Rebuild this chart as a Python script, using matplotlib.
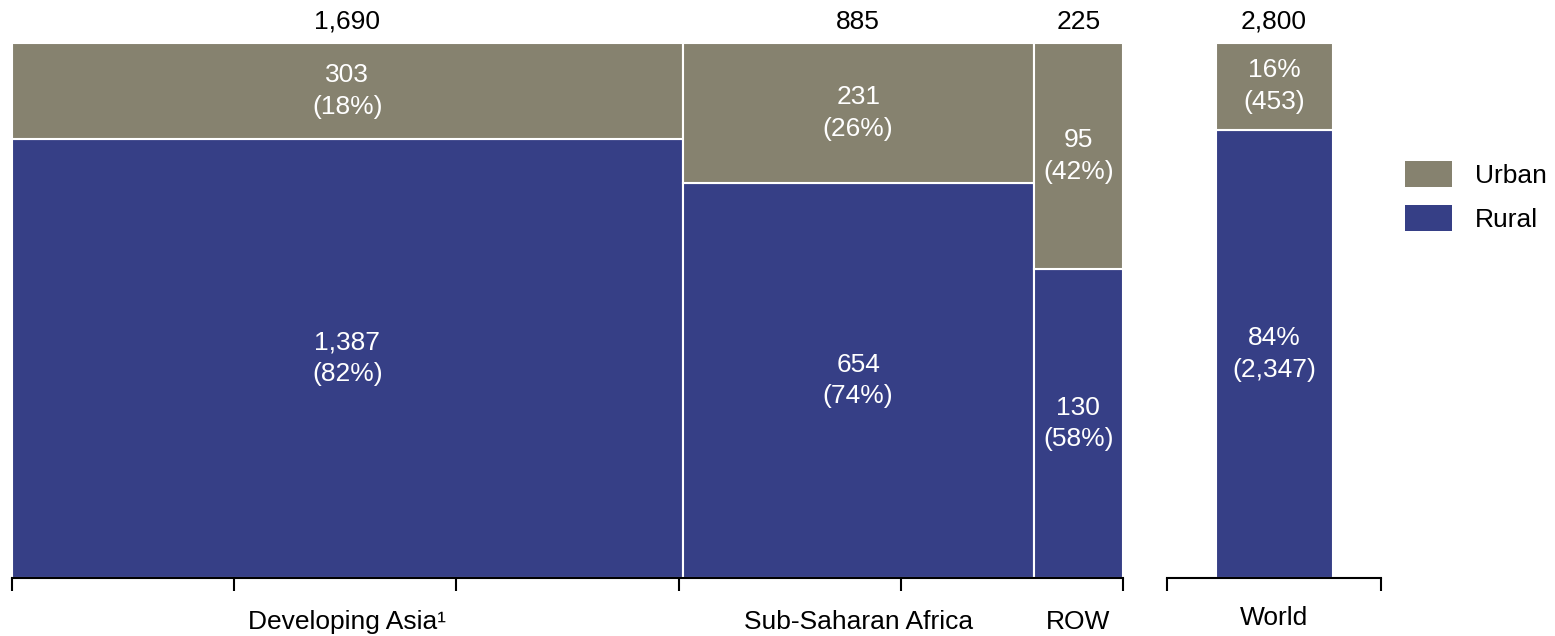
import numpy as np
import matplotlib
matplotlib.use("Agg")
import matplotlib.pyplot as plt
from matplotlib.patches import Patch
import matplotlib.transforms as mtransforms

plt.rcParams['font.family'] = ['Liberation Sans', 'DejaVu Sans']

# data
regions = ["Developing Asia\u00b9", "Sub-Saharan Africa", "ROW"]
urban = [303, 231, 95]
rural = [1387, 654, 130]
world_urban = 453
world_rural = 2347

urban_col = "#86826f"
rural_col = "#363f86"
fs = 19
ls = 1.4

totals = np.array(urban) + np.array(rural)
grand = totals.sum()
lefts = np.concatenate([[0], np.cumsum(totals)[:-1]])
u_share = np.array(urban) / totals
r_share = np.array(rural) / totals

fig = plt.figure(figsize=(15.55, 6.36), dpi=100)
ax = fig.add_axes([12 / 1555, 58 / 636, 1111 / 1555, 535 / 636])
ax2 = fig.add_axes([1167 / 1555, 58 / 636, 214 / 1555, 535 / 636])

# mekko bars
ax.bar(lefts, r_share, width=totals, align='edge', color=rural_col,
       edgecolor='white', linewidth=1.5)
ax.bar(lefts, u_share, width=totals, bottom=r_share, align='edge',
       color=urban_col, edgecolor='white', linewidth=1.5)

trans = mtransforms.blended_transform_factory(ax.transData, ax.transAxes)
for i in range(len(regions)):
    cx = lefts[i] + totals[i] / 2
    ax.text(cx, r_share[i] / 2, f"{rural[i]:,}\n({r_share[i]*100:.0f}%)",
            ha='center', va='center', color='white', fontsize=fs, linespacing=ls)
    ax.text(cx, r_share[i] + u_share[i] / 2, f"{urban[i]:,}\n({u_share[i]*100:.0f}%)",
            ha='center', va='center', color='white', fontsize=fs, linespacing=ls)
    ax.text(cx, 1.04, f"{totals[i]:,}", ha='center', va='center', fontsize=fs,
            transform=trans)
    ax.text(cx, -0.082, regions[i], ha='center', va='center', fontsize=fs,
            transform=trans)

ax.set_xlim(0, grand)
ax.set_ylim(0, 1)
ax.set_xticks(np.linspace(0, grand, 6))
ax.set_xticklabels([])

# world bar
w_total = world_urban + world_rural
wu = world_urban / w_total
wr = world_rural / w_total
bw = 117 / 214
ax2.bar(0.5, wr, width=bw, color=rural_col, edgecolor='white', linewidth=1.5)
ax2.bar(0.5, wu, width=bw, bottom=wr, color=urban_col, edgecolor='white', linewidth=1.5)
ax2.text(0.5, wr / 2, f"{wr*100:.0f}%\n({world_rural:,})", ha='center', va='center',
         color='white', fontsize=fs, linespacing=ls)
ax2.text(0.5, wr + wu / 2, f"{wu*100:.0f}%\n({world_urban:,})", ha='center', va='center',
         color='white', fontsize=fs, linespacing=ls)
ax2.text(0.5, 1.04, f"{w_total:,}", ha='center', va='center', fontsize=fs,
         transform=ax2.transAxes)
ax2.text(0.5, -0.074, "World", ha='center', va='center', fontsize=fs,
         transform=ax2.transAxes)
ax2.set_xlim(0, 1)
ax2.set_ylim(0, 1)
ax2.set_xticks([0, 1])
ax2.set_xticklabels([])

for a in (ax, ax2):
    for s in ('top', 'right', 'left'):
        a.spines[s].set_visible(False)
    a.spines['bottom'].set_linewidth(1.5)
    a.set_yticks([])
    a.tick_params(axis='x', direction='out', length=9, width=1.5)

handles = [Patch(facecolor=urban_col, label='Urban'),
           Patch(facecolor=rural_col, label='Rural')]
fig.legend(handles=handles, loc='upper left', bbox_to_anchor=(1405 / 1555, 1 - 161 / 636),
           frameon=False, fontsize=fs, handlelength=1.78, handleheight=1.15,
           labelspacing=0.64, handletextpad=0.87, borderpad=0, borderaxespad=0)

fig.savefig("out.png", dpi=100)
